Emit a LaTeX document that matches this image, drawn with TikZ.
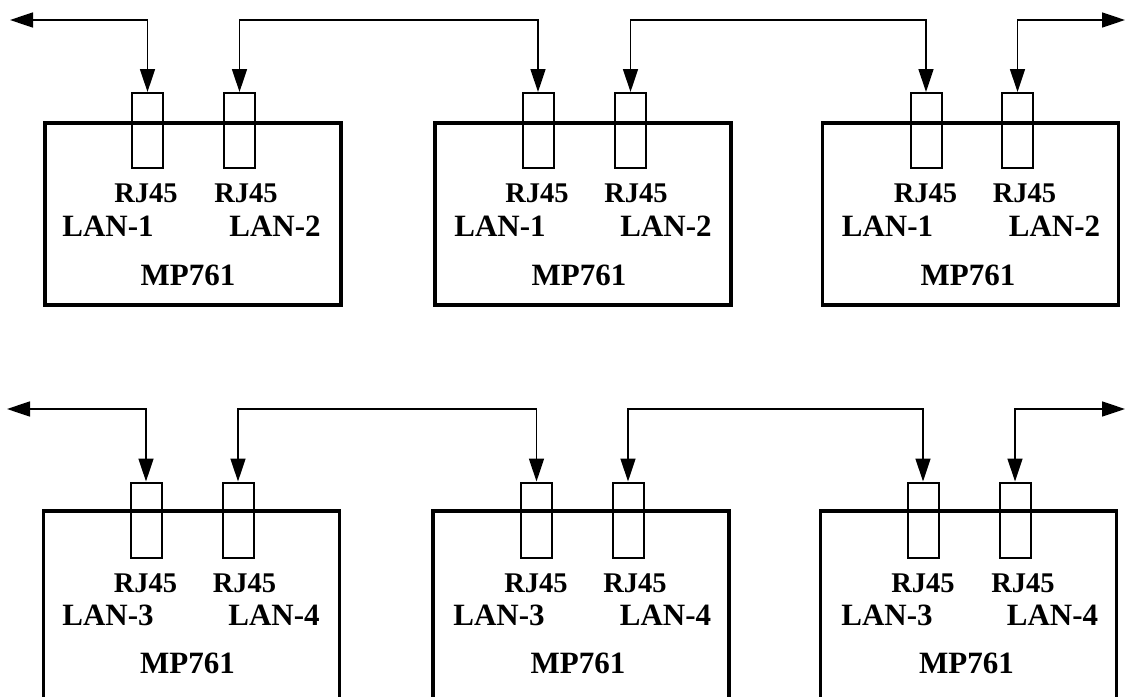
\documentclass[tikz,border=0pt]{standalone}
\usepackage{fontspec}
\setmainfont{Liberation Serif}
\usepackage{tikz}
\usetikzlibrary{
  arrows.meta,
  positioning,
  calc
}
\tikzset{
  mpbox/.style={
    draw, line width=3.2pt, minimum width=296pt, inner sep=0pt
  },
  rjport/.style={draw, line width=2pt, minimum width=31pt, minimum height=75pt, inner sep=0pt},
  rjtag/.style={font=\bfseries\fontsize{28.5}{30}\selectfont, anchor=base, inner sep=0pt},
  lantag/.style={font=\bfseries\fontsize{31}{33}\selectfont, anchor=base, inner sep=0pt},
  duplex/.style={{Triangle[length=23pt,width=15pt]}-{Triangle[length=23pt,width=15pt]}, line width=1.5pt}
}

\begin{document}
\begin{tikzpicture}[x=1pt, y=-1pt]
  \useasboundingbox (0,0) rectangle (1126,696);
  \clip (0,0) rectangle (1126,696);
  % upper row
  \node[mpbox, minimum height=182pt] (b1) at (193,214) {};
  \node[mpbox, minimum height=182pt] (b2) at (583,214) {};
  \node[mpbox, minimum height=182pt] (b3) at (970.5,214) {};
  \node[rjport] (p11) at (147.5,130.5) {};
  \node[rjport] (p12) at (239.5,130.5) {};
  \node[rjport] (p21) at (538,130.5) {};
  \node[rjport] (p22) at (630.5,130.5) {};
  \node[rjport] (p31) at (926,130.5) {};
  \node[rjport] (p32) at (1017.5,130.5) {};
  \node[rjtag] (r11) at (146,202) {RJ45};
  \node[rjtag] (r12) at (246,202) {RJ45};
  \node[rjtag] (r21) at (537,202) {RJ45};
  \node[rjtag] (r22) at (636,202) {RJ45};
  \node[rjtag] (r31) at (925.5,202) {RJ45};
  \node[rjtag] (r32) at (1024.5,202) {RJ45};
  \node[lantag] (l11) at (108,236) {LAN-1};
  \node[lantag] (l12) at (275,236) {LAN-2};
  \node[lantag] (l21) at (500,236) {LAN-1};
  \node[lantag] (l22) at (666,236) {LAN-2};
  \node[lantag] (l31) at (887.5,236) {LAN-1};
  \node[lantag] (l32) at (1054.5,236) {LAN-2};
  \node[lantag] (m1) at (188,285) {MP761};
  \node[lantag] (m2) at (579,285) {MP761};
  \node[lantag] (m3) at (968,285) {MP761};
  \coordinate (ea) at (10,20);
  \coordinate (eb) at (1125,20);
  \draw[duplex] (ea) -| (p11.north);
  \draw[duplex] (p12.north) -- (p12.north |- ea) -| (p21.north);
  \draw[duplex] (p22.north) -- (p22.north |- ea) -| (p31.north);
  \draw[duplex] (eb) -| (p32.north);
  % lower row
  \node[mpbox, minimum height=190pt] (b4) at (191.5,606) {};
  \node[mpbox, minimum height=190pt] (b5) at (581,606) {};
  \node[mpbox, minimum height=190pt] (b6) at (968.5,606) {};
  \node[rjport] (p41) at (146,520) {};
  \node[rjport] (p42) at (238,520) {};
  \node[rjport] (p51) at (536.5,520) {};
  \node[rjport] (p52) at (628,520) {};
  \node[rjport] (p61) at (923,520) {};
  \node[rjport] (p62) at (1015,520) {};
  \node[rjtag] (r41) at (145.5,592) {RJ45};
  \node[rjtag] (r42) at (244.5,592) {RJ45};
  \node[rjtag] (r51) at (536,592) {RJ45};
  \node[rjtag] (r52) at (635,592) {RJ45};
  \node[rjtag] (r61) at (923,592) {RJ45};
  \node[rjtag] (r62) at (1023,592) {RJ45};
  \node[lantag] (l41) at (108,625) {LAN-3};
  \node[lantag] (l42) at (274,625) {LAN-4};
  \node[lantag] (l51) at (499,625) {LAN-3};
  \node[lantag] (l52) at (665.5,625) {LAN-4};
  \node[lantag] (l61) at (887,625) {LAN-3};
  \node[lantag] (l62) at (1052.5,625) {LAN-4};
  \node[lantag] (m4) at (187.5,673) {MP761};
  \node[lantag] (m5) at (578,673) {MP761};
  \node[lantag] (m6) at (966.5,673) {MP761};
  \coordinate (ec) at (7,409);
  \coordinate (ed) at (1125,409);
  \draw[duplex] (ec) -| (p41.north);
  \draw[duplex] (p42.north) -- (p42.north |- ec) -| (p51.north);
  \draw[duplex] (p52.north) -- (p52.north |- ec) -| (p61.north);
  \draw[duplex] (ed) -| (p62.north);
\end{tikzpicture}
\end{document}
